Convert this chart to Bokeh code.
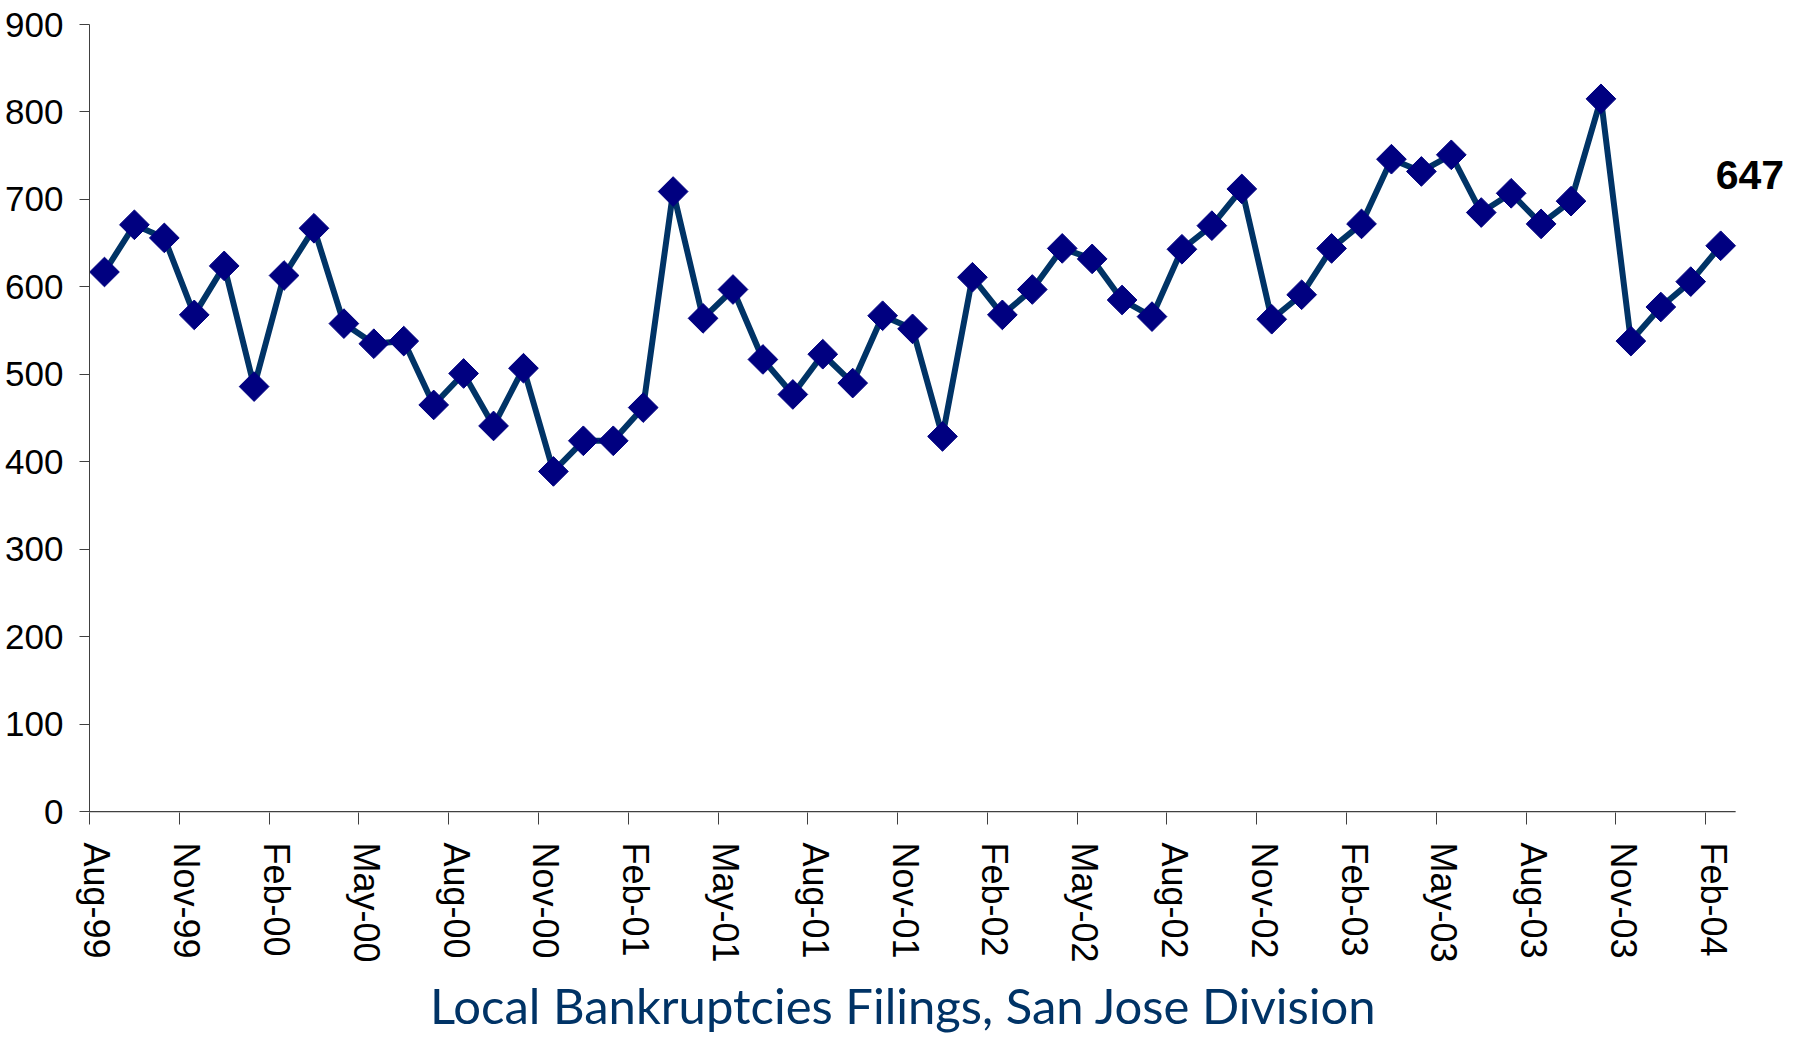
import math
import pandas as pd
from bokeh.plotting import figure
from bokeh.models import Range1d, FixedTicker, Label, Title
from bokeh.embed import file_html
from bokeh.resources import INLINE

# ---- data -------------------------------------------------------------
months = list(pd.date_range("1999-08-01", periods=55, freq="MS").strftime("%b-%y"))
filings = [617, 671, 656, 568, 624, 486, 613, 667, 558, 535,
           538, 465, 501, 441, 507, 389, 424, 424, 462, 709,
           564, 597, 517, 477, 523, 490, 567, 552, 429, 611,
           568, 597, 644, 632, 585, 566, 643, 670, 712, 563,
           591, 644, 672, 746, 732, 751, 685, 707, 672, 698,
           815, 538, 577, 606, 647]
tick_labels = ["Aug-99", "Nov-99", "Feb-00", "May-00", "Aug-00", "Nov-00",
               "Feb-01", "May-01", "Aug-01", "Nov-01", "Feb-02", "May-02",
               "Aug-02", "Nov-02", "Feb-03", "May-03", "Aug-03", "Nov-03",
               "Feb-04"]
y_ticks = [0, 100, 200, 300, 400, 500, 600, 700, 800, 900]
title_text = "Local Bankruptcies Filings, San Jose Division"

# ---- layout -------------------------------------------------------------
n = len(months)
x = list(range(n))
tick_idx = [months.index(t) for t in tick_labels]
boundaries = [i - 0.5 for i in tick_idx]
label_pos = [i - 0.25 for i in tick_idx]
extra = 2.0  # room at the right for the value label

p = figure(width=1804, height=1041, output_backend="svg", toolbar_location=None,
           x_range=Range1d(-0.5, n - 0.5 + extra), y_range=Range1d(-1, 900),
           min_border_left=89, min_border_right=9, min_border_top=24,
           min_border_bottom=228)
p.outline_line_color = None
p.grid.visible = False
p.background_fill_color = "white"
p.border_fill_color = "white"

# category axis baseline (ends at the last category boundary)
p.segment(x0=[-0.5], y0=[0], x1=[n - 0.5], y1=[0], line_color="#404040", line_width=1.5)

p.line(x, filings, line_color="#003366", line_width=6)
p.scatter(x, filings, marker="square", angle=math.pi / 4, size=21,
          fill_color="#000080", line_color="#000080")

p.add_layout(Label(x=x[-1], y=filings[-1], text=str(filings[-1]),
                   x_offset=-5, y_offset=71, text_align="left",
                   text_baseline="alphabetic", text_font="Liberation Sans",
                   text_font_style="bold", text_font_size="41px",
                   text_color="black"))

xa = p.xaxis[0]
xa.ticker = FixedTicker(ticks=label_pos, minor_ticks=boundaries)
xa.major_label_overrides = {pos: lab for pos, lab in zip(label_pos, tick_labels)}
xa.major_tick_out = 0
xa.major_tick_in = 0
xa.minor_tick_out = 12
xa.minor_tick_in = 0
xa.minor_tick_line_color = "#404040"
xa.axis_line_color = None
xa.major_label_orientation = -math.pi / 2
xa.major_label_standoff = 18
xa.major_label_text_font = "Liberation Sans"
xa.major_label_text_font_size = "36px"
xa.major_label_text_color = "black"

p.add_layout(Title(text=title_text, align="center", standoff=16,
                   padding=(0, 78, 0, 0),
                   text_font="Lato", text_font_size="49px",
                   text_font_style="normal", text_color="#003366"), "below")

ya = p.yaxis[0]
ya.ticker = FixedTicker(ticks=y_ticks)
ya.major_tick_out = 10
ya.major_tick_in = 0
ya.minor_tick_out = 0
ya.minor_tick_in = 0
ya.major_tick_line_color = "#404040"
ya.axis_line_color = "#404040"
ya.major_label_standoff = 16
ya.major_label_text_font = "Liberation Sans"
ya.major_label_text_font_size = "35px"
ya.major_label_text_color = "black"

open("out.html", "w").write(file_html(p, INLINE))
